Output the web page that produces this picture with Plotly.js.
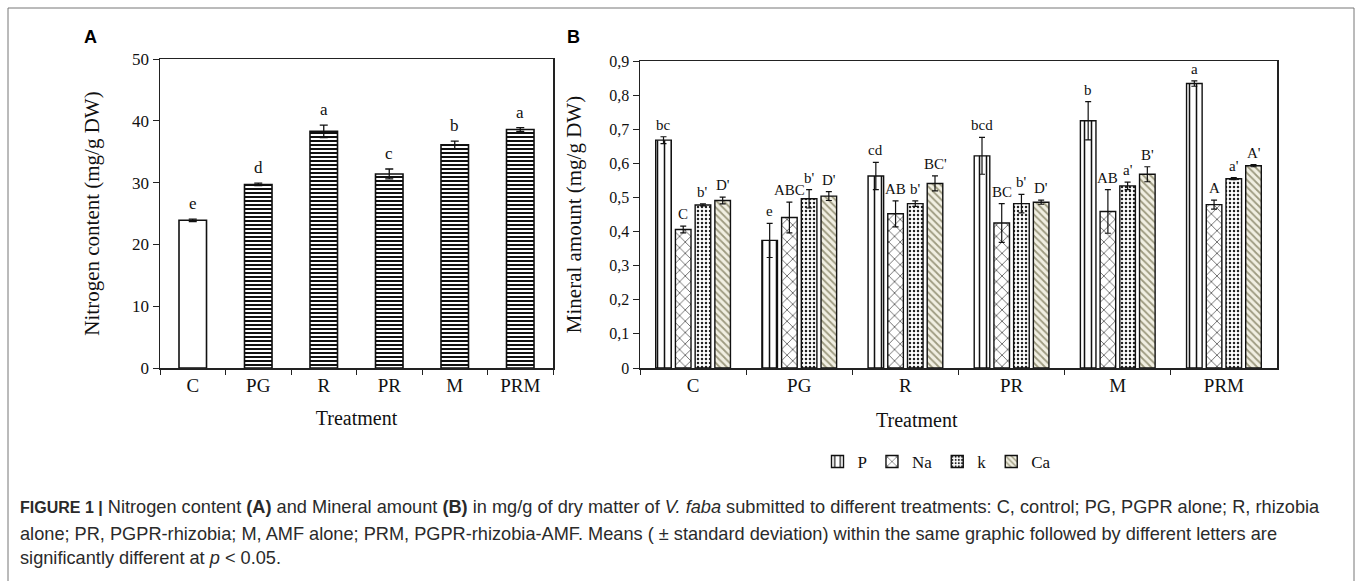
<!DOCTYPE html>
<html><head><meta charset="utf-8">
<script src="https://cdn.plot.ly/plotly-3.0.1.min.js"></script>
<style>html,body{margin:0;padding:0;background:#fff}#chart{width:1357px;height:581px}</style>
</head><body><div id="chart"></div>
<script>
// ---------- data ----------
const treatments = ['C', 'PG', 'R', 'PR', 'M', 'PRM'];

const nitrogen = [23.9, 29.7, 38.3, 31.4, 36.1, 38.6];
const nitrogenErr = [0.2, 0.2, 1.0, 0.8, 0.6, 0.3];
const nitrogenLetters = ['e', 'd', 'a', 'c', 'b', 'a'];

const mineralNames = ['P', 'Na', 'k', 'Ca'];
const mineralP  = [0.668, 0.374, 0.563, 0.622, 0.725, 0.834];
const mineralNa = [0.406, 0.441, 0.452, 0.425, 0.459, 0.479];
const mineralK  = [0.478, 0.496, 0.482, 0.482, 0.534, 0.555];
const mineralCa = [0.491, 0.504, 0.541, 0.486, 0.568, 0.593];
const errP  = [0.010, 0.050, 0.040, 0.054, 0.056, 0.008];
const errNa = [0.010, 0.045, 0.038, 0.057, 0.064, 0.013];
const errK  = [0.003, 0.027, 0.008, 0.027, 0.011, 0.003];
const errCa = [0.010, 0.013, 0.022, 0.006, 0.022, 0.003];
const lettersP  = ['bc', 'e', 'cd', 'bcd', 'b', 'a'];
const lettersNa = ['C', 'ABC', 'AB', 'BC', 'AB', 'A'];
const lettersK  = ["b'", "b'", "b'", "b'", "a'", "a'"];
const lettersCa = ["D'", "D'", "BC'", "D'", "B'", "A'"];

const caption1 = "<span style=\"font-size:16px\"><b>FIGURE 1 |</b></span> Nitrogen content <b>(A)</b> and Mineral amount <b>(B)</b> in mg/g of dry matter of <i>V. faba</i> submitted to different treatments: C, control; PG, PGPR alone; R, rhizobia";
const caption2 = "alone; PR, PGPR-rhizobia; M, AMF alone; PRM, PGPR-rhizobia-AMF. Means ( \u00b1 standard deviation) within the same graphic followed by different letters are";
const caption3 = "significantly different at <i>p</i> &lt; 0.05.";

// ---------- layout constants ----------
const W = 1357, H = 581;
const SERIF = 'Liberation Serif, Times New Roman, serif';
const SANS = 'Liberation Sans, Arial, sans-serif';
const domAx = [160 / W, 553 / W];
const domAy = [(H - 368) / H, (H - 59) / H];
const domBx = [640 / W, 1277 / W];
const domBy = [(H - 368) / H, (H - 61) / H];
const BARGAP = 0.257, GROUPGAP = 0.21;

const mineralVals = [mineralP, mineralNa, mineralK, mineralCa];
const mineralErrs = [errP, errNa, errK, errCa];
const mineralLetters = [lettersP, lettersNa, lettersK, lettersCa];
const patterns = [
  {shape: '|', size: 7, solidity: 0.22, fgcolor: '#111', bgcolor: '#fff'},
  {shape: 'x', size: 8, solidity: 0.14, fgcolor: '#111', bgcolor: '#fff'},
  {shape: '.', size: 4, solidity: 0.3, fgcolor: '#222', bgcolor: '#fff'},
  {shape: '\\', size: 5, solidity: 0.35, fgcolor: '#9d9a80', bgcolor: '#f1efe2'}
];

const traces = [];
traces.push({
  type: 'bar', x: treatments, y: nitrogen, xaxis: 'x', yaxis: 'y',
  width: 0.42, showlegend: false, hoverinfo: 'x+y',
  marker: {
    color: '#fff',
    line: {color: '#111', width: 1.6},
    pattern: {shape: treatments.map((t, i) => i === 0 ? '' : '-'), size: 4, solidity: 0.5, fgcolor: '#111', bgcolor: '#fff'}
  },
  error_y: {type: 'data', array: nitrogenErr, color: '#111', thickness: 1.3, width: 4}
});
mineralNames.forEach((name, i) => {
  traces.push({
    type: 'bar', name: name, x: treatments, y: mineralVals[i], xaxis: 'x2', yaxis: 'y2',
    marker: {color: '#fff', line: {color: '#111', width: 1.4}, pattern: patterns[i]},
    error_y: {type: 'data', array: mineralErrs[i], color: '#111', thickness: 1.2, width: 3}
  });
});

const annotations = [];
// panel letters
annotations.push({xref: 'paper', yref: 'paper', x: 90 / W, y: 1 - 37 / H, xanchor: 'center', yanchor: 'middle', text: '<b>A</b>', showarrow: false, font: {family: SANS, size: 18, color: '#000'}});
annotations.push({xref: 'paper', yref: 'paper', x: 573 / W, y: 1 - 37 / H, xanchor: 'center', yanchor: 'middle', text: '<b>B</b>', showarrow: false, font: {family: SANS, size: 18, color: '#000'}});
// significance letters, panel A
treatments.forEach((t, j) => {
  annotations.push({xref: 'x', yref: 'y', x: t, y: nitrogen[j] + nitrogenErr[j], xanchor: 'center', yanchor: 'bottom', yshift: 4,
    text: nitrogenLetters[j], showarrow: false, font: {family: SERIF, size: 17, color: '#111'}});
});
// significance letters, panel B
const catPx = (domBx[1] - domBx[0]) * W / treatments.length;
const slotPx = catPx * (1 - BARGAP) / mineralNames.length;
mineralNames.forEach((m, i) => {
  treatments.forEach((t, j) => {
    annotations.push({xref: 'x2', yref: 'y2', x: t, y: mineralVals[i][j] + mineralErrs[i][j], xanchor: 'center', yanchor: 'bottom',
      xshift: (i - (mineralNames.length - 1) / 2) * slotPx, yshift: 2,
      text: mineralLetters[i][j], showarrow: false, font: {family: SERIF, size: 15, color: '#111'}});
  });
});
// panel B x title
annotations.push({xref: 'paper', yref: 'paper', x: 917 / W, y: 1 - 420 / H, xanchor: 'center', yanchor: 'middle', text: 'Treatment', showarrow: false,
  font: {family: SERIF, size: 20, color: '#111'}});
// caption
[[caption1, 507], [caption2, 534], [caption3, 558]].forEach(([txt, yy]) => {
  annotations.push({xref: 'paper', yref: 'paper', x: 18 / W, xanchor: 'left', y: 1 - yy / H, yanchor: 'middle',
    text: txt, showarrow: false, align: 'left', font: {family: SANS, size: 18.2, color: '#2a2a2a'}});
});

const axisCommon = {
  showline: true, mirror: true, linecolor: '#222', linewidth: 1.5,
  showgrid: false, zeroline: false, ticks: 'outside', tickcolor: '#222', automargin: false
};

const layout = {
  width: W, height: H,
  margin: {l: 0, r: 0, t: 0, b: 0},
  paper_bgcolor: '#fff', plot_bgcolor: '#fff',
  separators: ', ',
  barmode: 'group', bargap: BARGAP, bargroupgap: GROUPGAP,
  font: {family: SERIF, color: '#111'},
  xaxis: Object.assign({}, axisCommon, {domain: domAx, anchor: 'y', type: 'category', tickson: 'boundaries', ticklen: 5,
    tickfont: {family: SERIF, size: 19, color: '#111'},
    title: {text: 'Treatment', font: {family: SERIF, size: 20, color: '#111'}, standoff: 15}}),
  yaxis: Object.assign({}, axisCommon, {domain: domAy, anchor: 'x', range: [0, 50], dtick: 10, ticklen: 6,
    tickfont: {family: SERIF, size: 17, color: '#111'},
    title: {text: 'Nitrogen content (mg/g DW)', font: {family: SERIF, size: 21, color: '#111'}, standoff: 26}}),
  xaxis2: Object.assign({}, axisCommon, {domain: domBx, anchor: 'y2', type: 'category', tickson: 'boundaries', ticklen: 5,
    tickfont: {family: SERIF, size: 19, color: '#111'}}),
  yaxis2: Object.assign({}, axisCommon, {domain: domBy, anchor: 'x2', range: [0, 0.9], dtick: 0.1, ticklen: 6,
    tickfont: {family: SERIF, size: 16, color: '#111'},
    title: {text: 'Mineral amount (mg/g DW)', font: {family: SERIF, size: 21, color: '#111'}, standoff: 22}}),
  legend: {orientation: 'h', x: 937 / W, xanchor: 'center', y: 1 - 462 / H, yanchor: 'middle',
    font: {family: SERIF, size: 17, color: '#111'}, itemwidth: 30, bgcolor: 'rgba(0,0,0,0)', traceorder: 'normal'},
  shapes: [{type: 'rect', xref: 'paper', yref: 'paper', x0: 8 / W, x1: 1354 / W, y0: 1 - 8 / H, y1: -0.05,
    line: {color: '#777', width: 1}, fillcolor: 'rgba(0,0,0,0)'}],
  annotations: annotations
};

Plotly.newPlot('chart', traces, layout, {displayModeBar: false, staticPlot: true});
</script>
</body></html>
